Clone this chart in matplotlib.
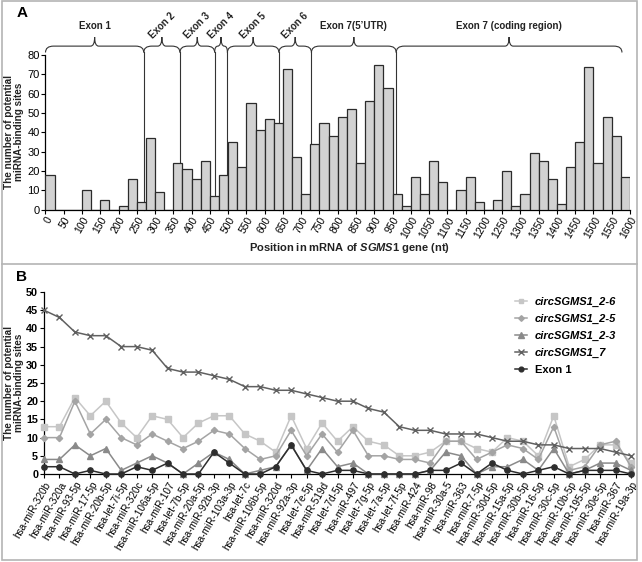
import numpy as np
import matplotlib
matplotlib.use('Agg')
import matplotlib.pyplot as plt
from matplotlib.path import Path
from matplotlib.patches import PathPatch, Rectangle
from matplotlib.lines import Line2D

plt.rcParams['font.family'] = ['Liberation Sans', 'DejaVu Sans']
plt.rcParams['mathtext.fontset'] = 'custom'
plt.rcParams['mathtext.it'] = 'Liberation Sans:italic:bold'
plt.rcParams['mathtext.rm'] = 'Liberation Sans:bold'

# ---- panel A data: sites per 25 nt window of SGMS1 mRNA
bin_start = np.arange(0, 1600, 25)
sites = [18, 0, 0, 0, 10, 0, 5, 0, 2, 16, 4, 37, 9, 0, 24, 21,
         16, 25, 7, 18, 35, 22, 55, 41, 47, 45, 73, 27, 8, 34, 45, 38,
         48, 52, 24, 56, 75, 63, 8, 2, 17, 8, 25, 14, 0, 10, 17, 4,
         0, 5, 20, 2, 8, 29, 25, 16, 3, 22, 35, 74, 24, 48, 38, 17]
exon_edges = [0, 269, 368, 463, 498, 639, 728, 960, 1578]
exon_names = ['Exon 1', 'Exon 2', 'Exon 3', 'Exon 4', 'Exon 5', 'Exon 6',
              'Exon 7(5\u2019UTR)', 'Exon 7 (coding region)']
exon_rot = [0, 45, 45, 45, 45, 45, 0, 0]

# ---- panel B data
mirnas = ['hsa-miR-320b', 'hsa-miR-320a', 'hsa-miR-93-5p', 'hsa-miR-17-5p',
          'hsa-miR-20b-5p', 'hsa-let-7i-5p', 'hsa-miR-320c', 'hsa-miR-106a-5p',
          'hsa-miR-107', 'hsa-let-7b-5p', 'hsa-miR-20a-5p', 'hsa-miR-92b-3p',
          'hsa-miR-103a-3p', 'hsa-let-7c', 'hsa-miR-106b-5p', 'hsa-miR-320d',
          'hsa-miR-92a-3p', 'hsa-let-7e-5p', 'hsa-miR-519d', 'hsa-let-7d-5p',
          'hsa-miR-497', 'hsa-let-7g-5p', 'hsa-let-7a-5p', 'hsa-let-7f-5p',
          'hsa-miR-424', 'hsa-miR-98', 'hsa-miR-30a-5', 'hsa-miR-363',
          'hsa-miR-7-5p', 'hsa-miR-30d-5p', 'hsa-miR-15a-5p', 'hsa-miR-30b-5p',
          'hsa-miR-16-5p', 'hsa-miR-30c-5p', 'hsa-miR-10b-5p', 'hsa-miR-195-5p',
          'hsa-miR-30e-5p', 'hsa-miR-367', 'hsa-miR-19a-3p']
circ_2_6 = [13, 13, 21, 16, 20, 14, 10, 16, 15, 10, 14, 16, 16, 11, 9, 6, 16, 7, 14, 9,
            13, 9, 8, 5, 5, 6, 9, 9, 7, 6, 10, 9, 5, 16, 2, 4, 8, 8, 3]
circ_2_5 = [10, 10, 20, 11, 15, 10, 8, 11, 9, 7, 9, 12, 11, 7, 4, 5, 12, 5, 11, 6,
            12, 5, 5, 4, 4, 3, 9, 9, 4, 6, 8, 7, 4, 13, 1, 2, 8, 9, 2]
circ_2_3 = [4, 4, 8, 5, 7, 1, 3, 5, 3, 0, 3, 6, 4, 0, 1, 2, 8, 1, 7, 2,
            3, 0, 0, 0, 0, 1, 6, 5, 0, 2, 2, 4, 1, 7, 0, 1, 3, 3, 1]
circ_7 = [45, 43, 39, 38, 38, 35, 35, 34, 29, 28, 28, 27, 26, 24, 24, 23, 23, 22, 21, 20,
          20, 18, 17, 13, 12, 12, 11, 11, 11, 10, 9, 9, 8, 8, 7, 7, 7, 6, 5]
exon1 = [2, 2, 0, 1, 0, 0, 2, 1, 3, 0, 0, 6, 3, 0, 0, 2, 8, 1, 0, 1,
         1, 0, 0, 0, 0, 1, 1, 3, 0, 3, 1, 0, 1, 2, 0, 1, 1, 1, 0]

W, H = 642, 562
fig = plt.figure(figsize=(W / 100, H / 100), dpi=100)

def fx(px):
    return px / W

def fy(py):
    return 1 - py / H

ylab = 'The number of potential\nmiRNA-binding sites'

# ================= panel A
ax = fig.add_axes([fx(45.5), fy(209.5), fx(630) - fx(45.5), fy(55) - fy(209.5)])
ax.bar(bin_start, sites, width=25, align='edge', color='#d2d2d2',
       edgecolor='#2b2b2b', linewidth=0.9, zorder=3)
ax.set_xlim(0, 1600)
ax.set_ylim(0, 80)
ax.set_yticks(np.arange(0, 81, 10))
ax.set_xticks(np.arange(0, 1601, 50))
ax.set_xticklabels([str(v) for v in range(0, 1601, 50)], rotation=60,
                   ha='right', rotation_mode='anchor', fontsize=7.5)
ax.tick_params(axis='y', labelsize=8)

y_end, y_h, y_t = 81.3, 84.6, 89.3
for i in range(len(exon_names)):
    x0, x1 = exon_edges[i], exon_edges[i + 1]
    xm = (x0 + x1) / 2
    r_end = min(22, (x1 - x0) / 4)
    r_tip = min(11, (x1 - x0) / 4)
    verts = [(x0, y_end), (x0, y_h), (x0 + r_end, y_h), (xm - r_tip, y_h),
             (xm, y_h), (xm, y_t), (xm, y_h), (xm + r_tip, y_h),
             (x1 - r_end, y_h), (x1, y_h), (x1, y_end)]
    codes = [Path.MOVETO, Path.CURVE3, Path.CURVE3, Path.LINETO,
             Path.CURVE3, Path.CURVE3, Path.CURVE3, Path.CURVE3,
             Path.LINETO, Path.CURVE3, Path.CURVE3]
    ax.add_patch(PathPatch(Path(verts, codes), fill=False, edgecolor='#333333',
                           lw=0.8, clip_on=False, zorder=2))
    ax.text(xm, 95, exon_names[i], rotation=exon_rot[i], ha='center', va='center',
            fontsize=7, fontweight='bold', color='#222222', clip_on=False)
for x in exon_edges[1:-1]:
    ax.plot([x, x], [0, y_end], color='#333333', lw=0.8, zorder=2, clip_on=False)

fig.text(fx(350), fy(248), r'Position in mRNA of $\mathit{SGMS1}$ gene (nt)',
         ha='center', va='center', fontsize=8, fontweight='bold', color='#222222')
fig.text(fx(14), fy(132), ylab, rotation=90, ha='center', va='center',
         fontsize=7.2, fontweight='bold', multialignment='center', color='#222222',
         linespacing=1.05)

# ================= panel B
ax2 = fig.add_axes([fx(44), fy(474), fx(631) - fx(44), fy(292) - fy(474)])
xs = np.arange(len(mirnas))
ax2.plot(xs, circ_2_6, marker='s', color='#c6c6c6', lw=1.1, ms=3.8,
         label='circSGMS1_2-6', clip_on=False, zorder=3)
ax2.plot(xs, circ_2_5, marker='D', color='#a4a4a4', lw=1.1, ms=3.2,
         label='circSGMS1_2-5', clip_on=False, zorder=4)
ax2.plot(xs, circ_2_3, marker='^', color='#8a8a8a', lw=1.1, ms=4.2,
         label='circSGMS1_2-3', clip_on=False, zorder=5)
ax2.plot(xs, circ_7, marker='x', color='#606060', lw=1.1, ms=4.2, mew=1.0,
         label='circSGMS1_7', clip_on=False, zorder=6)
ax2.plot(xs, exon1, marker='o', color='#2e2e2e', lw=1.1, ms=3.8,
         label='Exon 1', clip_on=False, zorder=7)
ax2.set_xlim(0, len(mirnas) - 1)
ax2.set_ylim(0, 50)
ax2.set_yticks(np.arange(0, 51, 5))
ax2.set_xticks(xs)
ax2.set_xticklabels(mirnas, rotation=60, ha='right', rotation_mode='anchor',
                    fontsize=7.2)
ax2.tick_params(axis='y', labelsize=7.8)
for t in ax2.get_yticklabels():
    t.set_fontweight('bold')

leg = ax2.legend(loc='upper left', bbox_to_anchor=(fx(515), fy(297)),
                 bbox_transform=fig.transFigure, frameon=False, fontsize=8,
                 handlelength=1.1, handletextpad=0.7, labelspacing=0.62,
                 borderpad=0, borderaxespad=0, markerscale=0.9)
for i, t in enumerate(leg.get_texts()):
    t.set_fontweight('bold')
    if i < 4:
        t.set_fontstyle('italic')

fig.text(fx(14), fy(383), ylab, rotation=90, ha='center', va='center',
         fontsize=7.2, fontweight='bold', multialignment='center', color='#222222',
         linespacing=1.05)

for a in (ax, ax2):
    a.spines['top'].set_visible(False)
    a.spines['right'].set_visible(False)
    a.tick_params(direction='out', length=3, width=0.8, pad=1.2)
    for s in ('left', 'bottom'):
        a.spines[s].set_linewidth(0.9)

# panel letters and frames
fig.text(fx(22), fy(13), 'A', ha='center', va='center', fontsize=11, fontweight='bold')
fig.text(fx(22), fy(277), 'B', ha='center', va='center', fontsize=11, fontweight='bold')
fig.add_artist(Rectangle((fx(2), fy(560)), fx(637) - fx(2), fy(1) - fy(560),
                         fill=False, edgecolor='#b4b4b4', lw=1.2))
fig.add_artist(Line2D([fx(2), fx(637)], [fy(264), fy(264)], color='#b4b4b4', lw=1.2))

fig.savefig('out.png', dpi=100)
